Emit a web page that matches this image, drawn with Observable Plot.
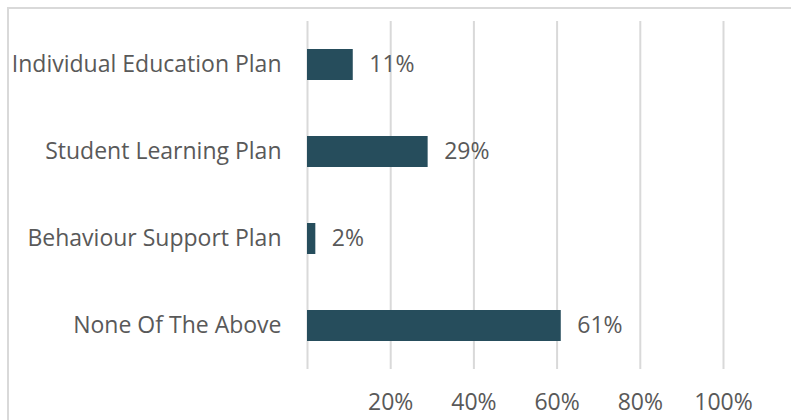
<!DOCTYPE html>
<html><head><meta charset="utf-8">
<script src="https://cdn.jsdelivr.net/npm/d3@7"></script>
<script src="https://cdn.jsdelivr.net/npm/@observablehq/plot@0.6"></script>
<style>
html,body{margin:0;padding:0;background:#fff;overflow:hidden;}
#wrap{position:relative;width:791px;height:420px;overflow:hidden;}
#frame{position:absolute;left:7px;top:7px;width:820px;height:520px;border:2px solid #d9d9d9;box-sizing:border-box;pointer-events:none;}
#wrap svg{position:absolute;left:0;top:0;}
</style></head><body><div id="wrap"><div id="frame"></div></div>
<script>
const categories = ["Individual Education Plan", "Student Learning Plan", "Behaviour Support Plan", "None Of The Above"];
const values = [0.11, 0.29, 0.02, 0.61];
const valueLabels = ["11%", "29%", "2%", "61%"];
const xTicks = [0.2, 0.4, 0.6, 0.8, 1.0];
const xTickLabels = ["20%", "40%", "60%", "80%", "100%"];

const data = categories.map((c, i) => ({category: c, value: values[i], label: valueLabels[i]}));

const FS = 23;
const chart = Plot.plot({
  width: 791, height: 420,
  marginLeft: 307, marginRight: 68, marginTop: 21, marginBottom: 51,
  style: {fontFamily: "'Open Sans', sans-serif", fontSize: FS + "px", color: "#595959", background: "transparent"},
  x: {domain: [0, 1]},
  y: {domain: categories, paddingInner: 0.645, paddingOuter: 0.3225},
  marks: [
    Plot.ruleX([0, ...xTicks], {stroke: "#d9d9d9", strokeWidth: 2, strokeOpacity: 1}),
    Plot.barX(data, {y: "category", x: "value", fill: "#264d5c"}),
    Plot.text(data, {y: "category", x: "value", text: "label", textAnchor: "start", dx: 16, fill: "#595959", fontSize: FS}),
    Plot.axisX({ticks: xTicks, tickFormat: d => xTickLabels[xTicks.indexOf(d)], tickSize: 0, tickPadding: 24, fontSize: FS, label: null, fill: "#595959"}),
    Plot.axisY({tickSize: 0, tickPadding: 26, fontSize: FS, label: null, fill: "#595959"})
  ]
});
document.getElementById("wrap").insertBefore(chart, document.getElementById("frame"));
</script>
</body></html>
